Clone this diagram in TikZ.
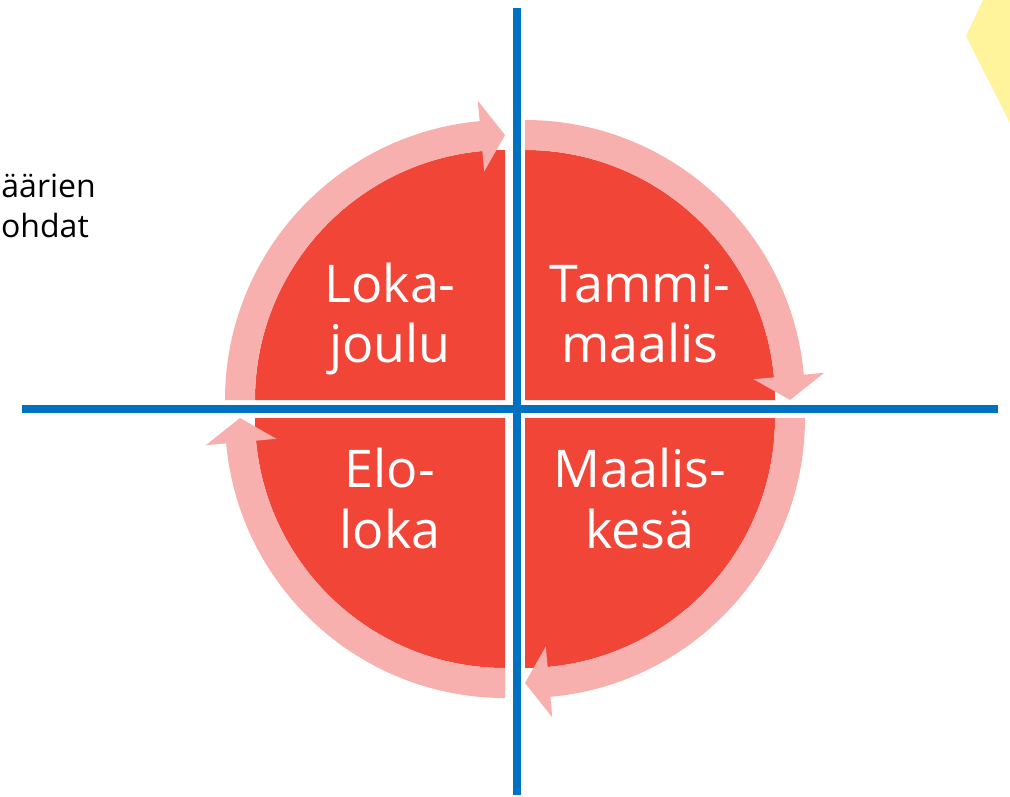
\documentclass[tikz,border=0pt]{standalone}
\usepackage{fontspec}
\setmainfont{Open Sans}
\definecolor{qred}{RGB}{241,69,56}
\definecolor{qpink}{RGB}{247,176,174}
\definecolor{qblue}{RGB}{0,112,192}
\definecolor{qyellow}{RGB}{255,243,156}
\begin{document}
\begin{tikzpicture}[x=1pt,y=1pt,
  quad/.style={fill=qred,draw=none},
  band/.style={fill=qpink,draw=none},
  axis/.style={draw=qblue,line width=8pt},
  lbl/.style={text=white,font=\fontsize{52}{60}\selectfont,anchor=base,inner sep=0pt},
  side/.style={text=black,font=\fontsize{32}{38}\selectfont,anchor=base east,inner sep=0pt}]
\useasboundingbox (0,0) rectangle (1010,-796);
\fill[white] (0,0) rectangle (1010,-796);
% yellow shape at top right
\fill[qyellow] (966,-36) -- (987.7,10) -- (1030,10) -- (1030,-162.5) -- cycle;
% red quadrants
\path[quad] (505,-400) -- (255,-400) arc[start angle=180,end angle=90,radius=250] -- cycle;
\path[quad] (525,-400) -- (525,-150) arc[start angle=90,end angle=0,radius=250] -- cycle;
\path[quad] (525,-418) -- (775,-418) arc[start angle=0,end angle=-90,radius=250] -- cycle;
\path[quad] (505,-418) -- (505,-668) arc[start angle=270,end angle=180,radius=250] -- cycle;
% pink circular arrows
\begin{scope}[shift={(505,-400)}]
  \path[band] (180:250) arc[start angle=180,end angle=95.2,radius=250]
     -- (95.2:229.5) -- (90:265) -- (95.2:300.5)
     -- (95.2:280) arc[start angle=95.2,end angle=180,radius=280] -- cycle;
\end{scope}
\begin{scope}[shift={(525,-400)}]
  \path[band] (90:250) arc[start angle=90,end angle=5.2,radius=250]
     -- (5.2:229.5) -- (0:265) -- (5.2:300.5)
     -- (5.2:280) arc[start angle=5.2,end angle=90,radius=280] -- cycle;
\end{scope}
\begin{scope}[shift={(525,-418)}]
  \path[band] (0:250) arc[start angle=0,end angle=-84.8,radius=250]
     -- (-84.8:229.5) -- (-90:265) -- (-84.8:300.5)
     -- (-84.8:280) arc[start angle=-84.8,end angle=0,radius=280] -- cycle;
\end{scope}
\begin{scope}[shift={(505,-418)}]
  \path[band] (-90:250) arc[start angle=-90,end angle=-174.8,radius=250]
     -- (-174.8:229.5) -- (-180:265) -- (-174.8:300.5)
     -- (-174.8:280) arc[start angle=-174.8,end angle=-90,radius=280] -- cycle;
\end{scope}
% axes
\coordinate (vtop) at (517,-8);
\coordinate (vbot) at (517,-795);
\coordinate (hleft) at (22,-409);
\coordinate (hright) at (998,-409);
\draw[axis] (vtop) -- (vbot);
\draw[axis] (hleft) -- (hright);
% labels
\node[lbl] (tl1) at (390,-302) {Loka-};
\node[lbl] (tl2) at (390,-362) {joulu};
\node[lbl] (tr1) at (640,-302) {Tammi-};
\node[lbl] (tr2) at (640,-362) {maalis};
\node[lbl] (bl1) at (390,-487) {Elo-};
\node[lbl] (bl2) at (390,-548) {loka};
\node[lbl] (br1) at (640,-487) {Maalis-};
\node[lbl] (br2) at (640,-548) {kesä};
% side text (cut at left)
\node[side] (s1) at (96,-197) {äärien};
\node[side] (s2) at (89,-237) {ohdat};
\end{tikzpicture}
\end{document}
